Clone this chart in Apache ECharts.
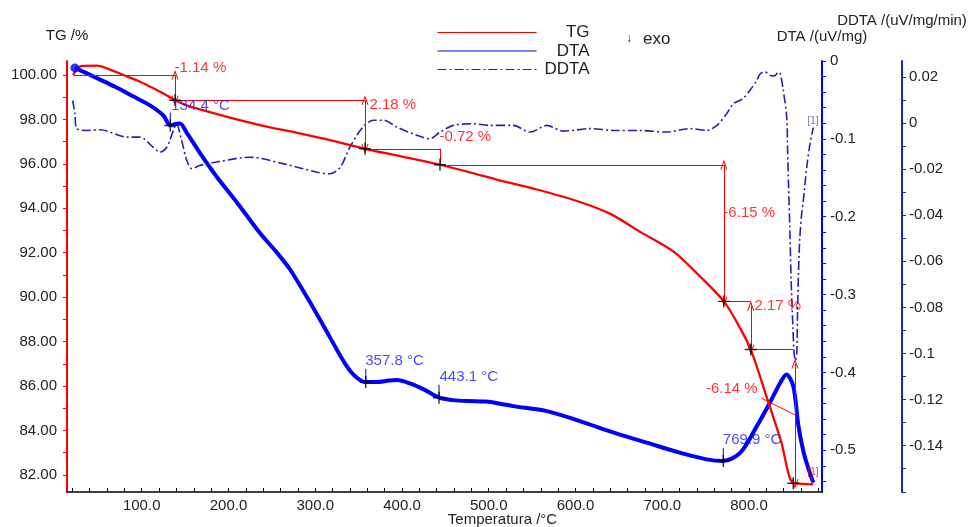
<!DOCTYPE html>
<html><head><meta charset="utf-8">
<script src="https://cdn.jsdelivr.net/npm/echarts@6/dist/echarts.min.js"></script>
<style>html,body{margin:0;padding:0;background:#fff}#c{width:973px;height:527px}</style>
</head><body><div id="c"></div>
<script>
// ---------- data (temperature °C, value) ----------
const tgData = [
  [21,100.0],[25,100.25],[30,100.4],[48,100.42],[60,100.3],[79,100.0],[95,99.75],[110,99.47],
  [125,99.17],[138.4,98.86],[150,98.66],[167,98.45],[205,98.05],[244,97.68],[282,97.37],
  [317,97.07],[357.4,96.68],[400,96.33],[443.8,95.96],[480,95.6],[510,95.28],[550,94.9],
  [600,94.35],[640,93.75],[674,92.95],[713,92.05],[743,90.95],[771,89.81],[787,88.8],
  [802,87.64],[822,85.3],[837,83.5],[851,81.62],[862,81.6],[874,81.57]
];
const dtaData = [
  [23,-0.0089],[35,-0.015],[52,-0.0239],[70,-0.0335],[90,-0.0453],[110,-0.0573],[125,-0.07],
  [133,-0.0829],[138,-0.0812],[144,-0.0804],[152,-0.0923],[167,-0.118],[186,-0.148],[210,-0.182],
  [236,-0.2207],[255,-0.245],[271,-0.2678],[294,-0.31],[317,-0.355],[334,-0.388],[346,-0.405],
  [358,-0.4124],[371,-0.4124],[385,-0.4105],[394,-0.4099],[409,-0.4141],[425,-0.4218],
  [443,-0.4325],[459,-0.4356],[475,-0.4368],[497,-0.4375],[513,-0.4402],[528,-0.4433],
  [567,-0.4497],[605,-0.4625],[644,-0.4774],[682,-0.4902],[720,-0.5031],[751,-0.5117],
  [770,-0.5139],[790,-0.5031],[809,-0.469],[824,-0.4389],[836,-0.4132],[843,-0.4026],
  [851,-0.4176],[857,-0.469],[863,-0.5031],[870,-0.5287],[874,-0.5416]
];
const ddtaData = [
  [20.5,0.0098],[23,0.004],[25,-0.0024],[37,-0.0032],[52,-0.0029],[83,-0.0061],[98,-0.0061],
  [113,-0.0104],[121,-0.0126],[129,-0.0104],[136.5,-0.0032],[140,-0.0003],[146,-0.0075],
  [152,-0.0162],[158,-0.0198],[167,-0.0184],[186,-0.0169],[225,-0.0148],[263,-0.0176],
  [302,-0.0213],[317,-0.022],[329,-0.0191],[340,-0.0104],[355,-0.0017],[367,0.0012],
  [379,0.0012],[394,-0.0017],[417,-0.0053],[432,-0.0068],[444,-0.0039],[459,-0.001],
  [482,-0.0003],[501,-0.001],[528,-0.001],[548,-0.0039],[567,-0.001],[586,-0.0035],
  [617,-0.0024],[644,-0.0032],[674,-0.0032],[705,-0.0039],[732,-0.0024],[751,-0.0032],
  [763,-0.001],[774,0.004],[782,0.0084],[793,0.0106],[801,0.0142],[809,0.0185],[813,0.0214],
  [819,0.0221],[824,0.0207],[829,0.0205],[834,0.0221],[836,0.0214],[839.5,0.0142],
  [843.4,0.0026],[844.5,-0.012],[845.5,-0.027],[847,-0.045],[848.5,-0.068],[850.5,-0.088],
  [852,-0.1],[853.5,-0.103],[855,-0.1],[855.8,-0.085],[857,-0.065],[858.5,-0.05],
  [860.5,-0.04],[862.6,-0.0335],[866.5,-0.0191],[870.3,-0.0089],[874,-0.002]
];

// ---------- tick labels ----------
const xTickLabels = [100,200,300,400,500,600,700,800];
const tgTickLabels = [82,84,86,88,90,92,94,96,98,100];
const dtaTickLabels = [0,-0.1,-0.2,-0.3,-0.4,-0.5];
const ddtaTickLabels = [0.02,0,-0.02,-0.04,-0.06,-0.08,-0.1,-0.12,-0.14];

// ---------- annotations ----------
// plain red segments [T1, TG1, T2, TG2]
const tgSegments = [
  [21,100.0,138.4,100.0],
  [138.4,98.86,357.4,98.86],
  [357.4,96.68,443.8,96.68],
  [443.8,96.68,443.8,95.96],
  [443.8,95.96,771,95.96],
  [771,89.81,802,89.81],
  [802,87.64,851,87.64],
  [814.4,85.45,853,84.7],
  [872.2,81.6,872.2,81.92]
];
// red double arrows [T1, TG1, T2, TG2]
const tgArrows = [
  [138.4,100.0,138.4,98.86],
  [357.4,98.86,357.4,96.68],
  [771,95.96,771,89.81],
  [802,89.6,802,87.64],
  [853,87.0,853,81.6]
];
const tgMarkers = [[138.4,98.86],[357.4,96.68],[443.8,95.96],[771,89.81],[802,87.64],[851,81.62]];
const dtaMarkers = [[133,-0.0829],[358.2,-0.4124],[442.7,-0.4325],[770.4,-0.5139]];
const tgLabels = [
  [138.4,100.32,'-1.14 %'],[363,98.65,'2.18 %'],[443.8,97.21,'-0.72 %'],
  [771,93.78,'-6.15 %'],[806.8,89.57,'2.17 %'],[750.9,85.87,'-6.14 %']
];
const tgTagLabels = [[868,82.1,'[1]']];
const dtaLabels = [
  [134.6,-0.0582,'134.4 °C'],[358.2,-0.3852,'357.8 °C'],[443.8,-0.4068,'443.1 °C'],[770.4,-0.4873,'769.9 °C']
];
const ddtaTagLabels = [[868,0.0004,'[1]']];

// ---------- chart ----------
const FONT = 'Liberation Sans, Arial, sans-serif';
const RED = '#ff0000', BLUE = '#0000ff', NAVY = '#2323a8', TXT = '#222';
const ARROW = 'path://M5,0 L10,10 L8.8,10.6 L5,3 L1.2,10.6 L0,10 Z';
const PLUS = 'path://M4.4,0h1.2v4.4h4.4v1.2h-4.4v4.4h-1.2v-4.4h-4.4v-1.2h4.4z';
function range(a, b, s) { const r = []; for (let v = a; v <= b + 1e-9; v += s) r.push(Math.round(v * 1000) / 1000); return r; }

function labelSeries(data, yIdx, color, size) {
  return {
    type: 'scatter', yAxisIndex: yIdx, silent: true, symbolSize: 1,
    itemStyle: { color: 'transparent' }, z: 10,
    data: data.map(d => ({ value: [d[0], d[1]], name: d[2] })),
    label: { show: true, position: [0, 0], align: 'left', verticalAlign: 'middle',
      formatter: p => p.name, color: color, fontSize: size, fontFamily: FONT }
  };
}

const markLineData = tgSegments.map(s => [{ coord: [s[0], s[1]] }, { coord: [s[2], s[3]] }])
  .concat(tgArrows.map(a => [
    { coord: [a[0], a[1]], symbol: ARROW, symbolSize: [7, 10] },
    { coord: [a[2], a[3]], symbol: ARROW, symbolSize: [7, 10] }
  ]));

const chart = echarts.init(document.getElementById('c'), null, { renderer: 'canvas' });
chart.setOption({
  animation: false,
  backgroundColor: '#fff',
  textStyle: { fontFamily: FONT },
  grid: { left: 67, right: 151, top: 61, bottom: 35, containLabel: false, outerBoundsMode: 'none' },
  legend: {
    orient: 'vertical', left: 432, top: 19, itemWidth: 99, itemHeight: 10, itemGap: 1.5,
    data: ['TG', 'DTA', 'DDTA'], selectedMode: false,
    formatter: '{a|{name}}',
    textStyle: { fontFamily: FONT, fontSize: 17, color: TXT,
      rich: { a: { width: 48, align: 'right', fontSize: 17, lineHeight: 19, fontFamily: FONT, color: TXT } } },
    lineStyle: { width: 1 },
    itemStyle: { opacity: 0 }
  },
  xAxis: {
    type: 'value', min: 13.9, max: 884.1, position: 'bottom',
    name: 'Temperatura /°C', nameLocation: 'middle', nameGap: 20, nameMoveOverlap: false,
    nameTextStyle: { fontSize: 15, color: TXT, fontFamily: FONT, padding: [0, 0, 0, 116] },
    axisLine: { show: true, onZero: false, lineStyle: { color: '#000', width: 1.5 } },
    axisTick: { show: true, inside: true, length: 4, customValues: range(20, 880, 20), lineStyle: { color: '#000' } },
    axisLabel: { customValues: xTickLabels, formatter: v => v.toFixed(1), fontSize: 15, color: TXT, margin: 6, fontFamily: FONT },
    splitLine: { show: false }
  },
  yAxis: [
    {
      type: 'value', position: 'left', min: 81.23, max: 100.63,
      name: 'TG /%', nameGap: 18, nameTextStyle: { fontSize: 15, color: TXT, fontFamily: FONT },
      axisLine: { show: true, onZero: false, lineStyle: { color: RED, width: 2 } },
      axisTick: { show: true, length: 4, customValues: range(82, 100, 1), lineStyle: { color: RED } },
      axisLabel: { customValues: tgTickLabels, formatter: v => v.toFixed(2), fontSize: 15, color: TXT, margin: 10, fontFamily: FONT },
      splitLine: { show: false }
    },
    {
      type: 'value', position: 'right', offset: 0, min: -0.5536, max: 0,
      name: 'DTA /(uV/mg)', nameGap: 17, nameTextStyle: { fontSize: 15, color: TXT, fontFamily: FONT },
      axisLine: { show: true, onZero: false, lineStyle: { color: BLUE, width: 2 } },
      axisTick: { show: true, length: 4, customValues: range(-0.54, 0, 0.02), lineStyle: { color: BLUE } },
      axisLabel: { customValues: dtaTickLabels, formatter: v => String(Math.round(v * 10) / 10), fontSize: 15, color: TXT, margin: 8, fontFamily: FONT },
      splitLine: { show: false }
    },
    {
      type: 'value', position: 'right', offset: 80, min: -0.1601, max: 0.02694,
      name: 'DDTA /(uV/mg/min)', nameGap: 33, nameTextStyle: { fontSize: 15, color: TXT, fontFamily: FONT },
      axisLine: { show: true, onZero: false, lineStyle: { color: NAVY, width: 2 } },
      axisTick: { show: true, length: 4, customValues: range(-0.16, 0.02, 0.01), lineStyle: { color: NAVY } },
      axisLabel: { customValues: ddtaTickLabels, formatter: v => String(Math.round(v * 100) / 100), fontSize: 15, color: TXT, margin: 7, fontFamily: FONT },
      splitLine: { show: false }
    }
  ],
  graphic: [
    { type: 'text', left: 626, top: 33, style: { text: '↓', font: '12px ' + FONT, fill: TXT } },
    { type: 'text', left: 643, top: 31, style: { text: 'exo', font: '17px ' + FONT, fill: TXT } }
  ],
  series: [
    {
      name: 'DDTA', type: 'line', yAxisIndex: 2, data: ddtaData, symbol: 'none', smooth: 0.3,
      lineStyle: { color: NAVY, width: 1.6, type: [9, 3, 2, 3] }, itemStyle: { color: NAVY }, silent: true, z: 2
    },
    {
      name: 'DTA', type: 'line', yAxisIndex: 1, data: dtaData, symbol: 'none', smooth: 0.3,
      lineStyle: { color: BLUE, width: 4 }, itemStyle: { color: BLUE }, silent: true, z: 3
    },
    {
      name: 'TG', type: 'line', yAxisIndex: 0, data: tgData, symbol: 'none', smooth: 0.3,
      lineStyle: { color: RED, width: 2.3 }, itemStyle: { color: RED }, silent: true, z: 4,
      markLine: {
        silent: true, symbol: ['none', 'none'], label: { show: false },
        lineStyle: { color: RED, width: 1, type: 'solid' }, emphasis: { disabled: true },
        animation: false, data: markLineData
      }
    },
    { type: 'scatter', yAxisIndex: 1, silent: true, symbol: 'circle', symbolSize: 9,
      itemStyle: { color: BLUE }, data: [dtaData[0]], z: 5 },
    { type: 'scatter', yAxisIndex: 1, silent: true, symbol: 'rect', symbolSize: [1.3, 13], symbolOffset: [0, -6.5],
      itemStyle: { color: BLUE }, data: dtaMarkers, z: 6 },
    { type: 'scatter', yAxisIndex: 1, silent: true, symbol: PLUS, symbolSize: 12,
      itemStyle: { color: '#000' }, data: dtaMarkers, z: 7 },
    { type: 'scatter', yAxisIndex: 0, silent: true, symbol: PLUS, symbolSize: 12,
      itemStyle: { color: '#000' }, data: tgMarkers, z: 7 },
    labelSeries(tgLabels, 0, RED, 15),
    labelSeries(tgTagLabels, 0, RED, 10),
    labelSeries(dtaLabels, 1, '#1a1aff', 15),
    labelSeries(ddtaTagLabels, 2, '#4a4ad0', 10)
  ]
});
</script></body></html>
